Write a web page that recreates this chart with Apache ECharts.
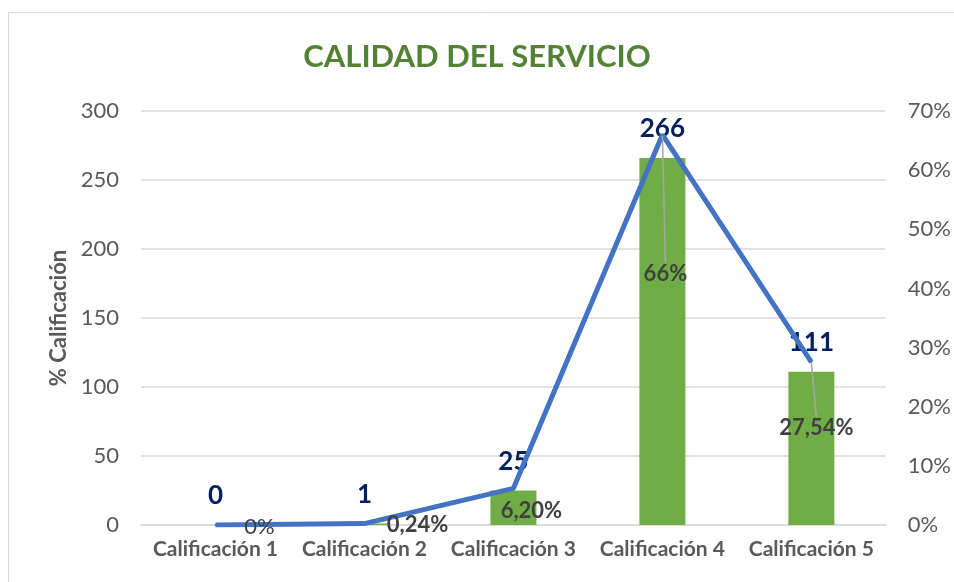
<!DOCTYPE html>
<html>
<head>
<meta charset="utf-8">
<script src="https://cdn.jsdelivr.net/npm/echarts@6/dist/echarts.min.js"></script>
<style>
  html, body { margin: 0; padding: 0; background: #fff; }
  #chart { width: 954px; height: 582px; }
</style>
</head>
<body>
<div id="chart"></div>
<script>
// datos
var categorias = ['Calificación 1', 'Calificación 2', 'Calificación 3', 'Calificación 4', 'Calificación 5'];
var cantidades = [0, 1, 25, 266, 111];
var porcentajes = [0, 0.0024, 0.062, 0.66, 0.2754];
var etiquetasPct = ['0%', '0,24%', '6,20%', '66%', '27,54%'];

// desplazamiento de las etiquetas de % respecto al punto
var despl = [[44, 2], [53, 1], [18, 23], [3, 139], [5, 66]];

var fuente = 'Lato, "Noto Sans", sans-serif';
var chart = echarts.init(document.getElementById('chart'));

var option = {
    animation: false,
    textStyle: { fontFamily: fuente },
    title: {
        text: 'CALIDAD DEL SERVICIO',
        left: 'center',
        top: 36,
        textStyle: { color: '#548235', fontSize: 31, fontWeight: 'bold', fontFamily: fuente }
    },
    graphic: [{
        type: 'rect',
        shape: { x: 8.5, y: 12.5, width: 1000, height: 1000 },
        style: { fill: null, stroke: '#d9d9d9', lineWidth: 1 },
        silent: true
    }],
    grid: { left: 141, right: 67, top: 111, bottom: 57 },
    xAxis: {
        type: 'category',
        data: categorias,
        axisTick: { show: false },
        axisLine: { lineStyle: { color: '#d9d9d9', width: 1.5 } },
        axisLabel: { color: '#595959', fontSize: 21, fontWeight: 'bold', margin: 14, interval: 0 }
    },
    yAxis: [{
        type: 'value',
        min: 0, max: 300, interval: 50,
        name: '% Calificación',
        nameLocation: 'middle',
        nameGap: 70,
        nameTextStyle: { color: '#595959', fontSize: 22, fontWeight: 'bold' },
        axisLine: { show: false },
        axisTick: { show: false },
        axisLabel: { color: '#595959', fontSize: 22, margin: 22 },
        splitLine: { lineStyle: { color: '#d9d9d9', width: 1.5 } }
    }, {
        type: 'value',
        min: 0, max: 0.7, interval: 0.1,
        axisLine: { show: false },
        axisTick: { show: false },
        splitLine: { show: false },
        axisLabel: {
            color: '#595959', fontSize: 22, margin: 22,
            formatter: function (v) { return Math.round(v * 100) + '%'; }
        }
    }],
    series: [{
        type: 'bar',
        data: cantidades,
        barWidth: 46,
        itemStyle: { color: '#70AD47' },
        label: {
            show: true,
            position: 'top',
            distance: 16,
            color: '#002060',
            fontSize: 26,
            fontWeight: 'bold'
        },
        z: 2
    }, {
        type: 'line',
        yAxisIndex: 1,
        data: porcentajes.map(function (v, i) {
            return {
                value: v,
                label: { fontWeight: i === 0 ? 'normal' : 'bold' },
                labelLine: { show: i >= 3 }
            };
        }),
        symbol: 'circle',
        symbolSize: 2,
        lineStyle: { color: '#4472C4', width: 5 },
        itemStyle: { color: '#4472C4' },
        label: {
            show: true,
            position: 'inside',
            color: '#404040',
            fontSize: 22,
            fontWeight: 'bold',
            formatter: function (p) { return etiquetasPct[p.dataIndex]; }
        },
        labelLine: { show: true, lineStyle: { color: '#a6a6a6', width: 1.5 } },
        labelLayout: function (p) {
            return { dx: despl[p.dataIndex][0], dy: despl[p.dataIndex][1] };
        },
        z: 3
    }]
};

chart.setOption(option);
</script>
</body>
</html>
